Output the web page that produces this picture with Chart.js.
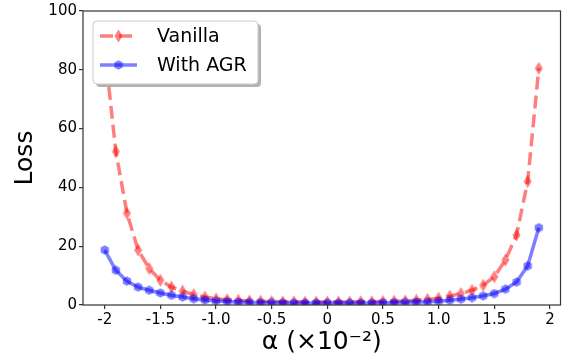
<!DOCTYPE html>
<html>
<head>
<meta charset="utf-8">
<script src="https://cdn.jsdelivr.net/npm/chart.js@4.4.0/dist/chart.umd.min.js"></script>
<style>
  html, body { margin: 0; padding: 0; background: #fff; }
  #wrap { width: 568px; height: 358px; }
</style>
</head>
<body>
<div id="wrap"><canvas id="myChart" width="568" height="358"></canvas></div>
<script>
// Data
const alphas = [-2.0, -1.9, -1.8, -1.7, -1.6, -1.5, -1.4, -1.3, -1.2, -1.1,
                -1.0, -0.9, -0.8, -0.7, -0.6, -0.5, -0.4, -0.3, -0.2, -0.1,
                 0.0,  0.1,  0.2,  0.3,  0.4,  0.5,  0.6,  0.7,  0.8,  0.9,
                 1.0,  1.1,  1.2,  1.3,  1.4,  1.5,  1.6,  1.7,  1.8,  1.9];
const vanillaLoss = [87, 52.2, 31.2, 18.7, 12.4, 8.4, 6.1, 4.7, 3.5, 2.7,
                     2.1, 1.8, 1.6, 1.4, 1.3, 1.2, 1.1, 1.1, 1.0, 1.0,
                     1.0, 1.0, 1.0, 1.1, 1.1, 1.2, 1.3, 1.4, 1.6, 1.9,
                     2.3, 3.0, 3.9, 5.0, 6.7, 9.6, 15.3, 23.8, 42.0, 80.5];
const agrLoss = [18.7, 11.8, 8.1, 6.1, 5.0, 4.1, 3.3, 2.7, 2.1, 1.7,
                 1.4, 1.2, 1.0, 0.9, 0.8, 0.8, 0.7, 0.7, 0.7, 0.7,
                 0.7, 0.7, 0.7, 0.7, 0.7, 0.8, 0.8, 0.9, 1.0, 1.1,
                 1.3, 1.6, 2.0, 2.5, 3.1, 3.9, 5.4, 7.8, 13.3, 26.3];
const xTickValues = [-2, -1.5, -1, -0.5, 0, 0.5, 1, 1.5, 2];
const xTickLabels = ['-2', '-1.5', '-1.0', '-0.5', '0', '0.5', '1.0', '1.5', '2'];
const yTickValues = [0, 20, 40, 60, 80, 100];

const RED = 'rgba(255, 0, 0, 0.5)';
const BLUE = 'rgba(0, 0, 255, 0.5)';
const FONT = "'DejaVu Sans', sans-serif";
const DASH = [13, 6];

// marker images
function makeDiamond() {
    const c = document.createElement('canvas');
    c.width = 9; c.height = 14;
    const g = c.getContext('2d');
    g.fillStyle = RED;
    g.beginPath();
    g.moveTo(4.5, 0.5); g.lineTo(8.5, 7); g.lineTo(4.5, 13.5); g.lineTo(0.5, 7);
    g.closePath();
    g.fill();
    return c;
}
function makeHexagon() {
    const c = document.createElement('canvas');
    c.width = 10; c.height = 10;
    const g = c.getContext('2d');
    g.fillStyle = BLUE;
    g.beginPath();
    for (let i = 0; i < 6; i++) {
        const a = Math.PI / 2 + i * Math.PI / 3;
        const px = 5 + 4.8 * Math.cos(a), py = 5 + 4.8 * Math.sin(a);
        if (i === 0) g.moveTo(px, py); else g.lineTo(px, py);
    }
    g.closePath();
    g.fill();
    return c;
}
const diamondImg = makeDiamond();
const hexImg = makeHexagon();

// frame around plot + matplotlib-like legend
const framePlugin = {
    id: 'frame',
    afterDraw(chart) {
        const ctx = chart.ctx;
        const a = chart.chartArea;
        ctx.save();
        ctx.strokeStyle = '#333';
        ctx.lineWidth = 1.2;
        ctx.strokeRect(a.left, a.top, a.right - a.left, a.bottom - a.top);

        // legend box
        const bx = 93, by = 21, bw = 165, bh = 63;
        ctx.fillStyle = 'rgba(0,0,0,0.3)';
        roundRect(ctx, bx + 3, by + 3, bw, bh, 4);
        ctx.fill();
        ctx.fillStyle = '#fff';
        ctx.strokeStyle = '#ccc';
        ctx.lineWidth = 1;
        roundRect(ctx, bx, by, bw, bh, 4);
        ctx.fill();
        ctx.stroke();

        const items = [
            { label: 'Vanilla', color: RED, dash: DASH, img: diamondImg, y: 36 },
            { label: 'With AGR', color: BLUE, dash: [], img: hexImg, y: 65 }
        ];
        items.forEach(it => {
            ctx.strokeStyle = it.color;
            ctx.lineWidth = 3.5;
            ctx.setLineDash(it.dash);
            ctx.beginPath();
            ctx.moveTo(100, it.y);
            ctx.lineTo(137, it.y);
            ctx.stroke();
            ctx.setLineDash([]);
            ctx.drawImage(it.img, 118.5 - it.img.width / 2, it.y - it.img.height / 2);
            ctx.fillStyle = '#000';
            ctx.font = '19px ' + FONT;
            ctx.textBaseline = 'middle';
            ctx.textAlign = 'left';
            ctx.fillText(it.label, 157, it.y + 1);
        });
        ctx.restore();
    }
};
function roundRect(ctx, x, y, w, h, r) {
    ctx.beginPath();
    ctx.moveTo(x + r, y);
    ctx.lineTo(x + w - r, y);
    ctx.quadraticCurveTo(x + w, y, x + w, y + r);
    ctx.lineTo(x + w, y + h - r);
    ctx.quadraticCurveTo(x + w, y + h, x + w - r, y + h);
    ctx.lineTo(x + r, y + h);
    ctx.quadraticCurveTo(x, y + h, x, y + h - r);
    ctx.lineTo(x, y + r);
    ctx.quadraticCurveTo(x, y, x + r, y);
    ctx.closePath();
}

const ctx = document.getElementById('myChart').getContext('2d');
const chart = new Chart(ctx, {
    type: 'line',
    data: {
        datasets: [{
            label: 'Vanilla',
            data: alphas.map((a, i) => ({ x: a, y: vanillaLoss[i] })),
            borderColor: RED,
            borderWidth: 3.5,
            borderDash: DASH,
            pointStyle: diamondImg,
            tension: 0,
            order: 2
        }, {
            label: 'With AGR',
            data: alphas.map((a, i) => ({ x: a, y: agrLoss[i] })),
            borderColor: BLUE,
            borderWidth: 3.5,
            pointStyle: hexImg,
            tension: 0,
            order: 1
        }]
    },
    options: {
        responsive: false,
        animation: false,
        layout: { padding: { top: 10, right: 6, left: 0, bottom: 0 } },
        plugins: {
            legend: { display: false },
            tooltip: { enabled: false }
        },
        scales: {
            x: {
                type: 'linear',
                min: -2.195,
                max: 2.095,
                afterBuildTicks: axis => { axis.ticks = xTickValues.map(v => ({ value: v })); },
                afterFit: axis => { axis.height = 53; },
                ticks: {
                    autoSkip: false,
                    maxRotation: 0,
                    padding: 2,
                    color: '#000',
                    font: { family: FONT, size: 15 },
                    callback: v => xTickLabels[xTickValues.indexOf(v)]
                },
                grid: { drawOnChartArea: false, tickLength: 4, color: '#333', lineWidth: 1.2 },
                border: { display: false },
                title: {
                    display: true,
                    text: 'α (×10⁻²)',
                    color: '#000',
                    font: { family: FONT, size: 25 },
                    padding: { top: 0, bottom: 1 }
                }
            },
            y: {
                min: 0,
                max: 100,
                afterBuildTicks: axis => { axis.ticks = yTickValues.map(v => ({ value: v })); },
                afterFit: axis => { axis.width = 83; },
                ticks: {
                    padding: 2,
                    color: '#000',
                    font: { family: FONT, size: 15 }
                },
                grid: { drawOnChartArea: false, tickLength: 4, color: '#333', lineWidth: 1.2 },
                border: { display: false },
                title: {
                    display: true,
                    text: 'Loss',
                    color: '#000',
                    font: { family: FONT, size: 25 },
                    padding: { top: 10, bottom: 0 }
                }
            }
        }
    },
    plugins: [framePlugin]
});
</script>
</body>
</html>
